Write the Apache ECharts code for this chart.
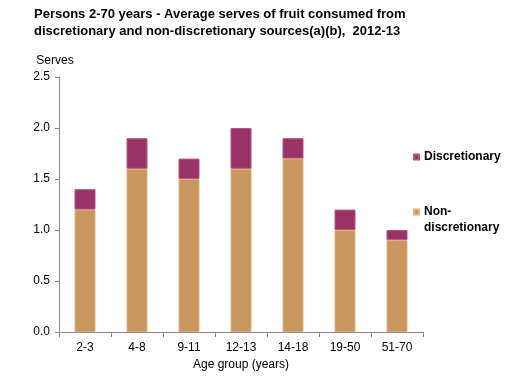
<!DOCTYPE html>
<html>
<head>
<meta charset="utf-8">
<script src="https://cdn.jsdelivr.net/npm/echarts@6/dist/echarts.min.js"></script>
<style>
  html, body { margin: 0; padding: 0; background: #fff; }
  #main { width: 508px; height: 377px; }
</style>
</head>
<body>
<div id="main"></div>
<script>
// age groups along the x axis
const ageGroups = ['2-3', '4-8', '9-11', '12-13', '14-18', '19-50', '51-70'];
// average serves
const nonDiscretionary = [1.2, 1.6, 1.5, 1.6, 1.7, 1.0, 0.9];
const discretionary = [0.2, 0.3, 0.2, 0.4, 0.2, 0.2, 0.1];

const font = 'Liberation Sans';

var myChart = echarts.init(document.getElementById('main'));

const option = {
    animation: false,
    title: {
        text: 'Persons 2-70 years - Average serves of fruit consumed from\ndiscretionary and non-discretionary sources(a)(b),  2012-13',
        left: 29,
        top: 1,
        textStyle: {
            fontFamily: font,
            fontSize: 13,
            fontWeight: 'bold',
            color: '#000',
            lineHeight: 17
        }
    },
    legend: {
        orient: 'vertical',
        left: 408,
        top: 144,
        icon: 'rect',
        itemWidth: 5,
        itemHeight: 5,
        itemGap: 23,
        data: ['Discretionary', 'Non-discretionary'],
        // empty first line so the marker lines up with "Non-"
        formatter: function (name) {
            return name === 'Non-discretionary' ? '\nNon-\ndiscretionary' : name;
        },
        textStyle: {
            fontFamily: font,
            fontSize: 12,
            fontWeight: 'bold',
            color: '#000',
            lineHeight: 16
        }
    },
    grid: {
        left: 59,
        right: 85,
        top: 77,
        bottom: 45
    },
    xAxis: {
        type: 'category',
        data: ageGroups,
        name: 'Age group (years)',
        nameLocation: 'middle',
        nameGap: 25,
        nameTextStyle: { fontFamily: font, fontSize: 12, color: '#000' },
        axisLine: { lineStyle: { color: '#888' } },
        axisTick: { show: true, alignWithLabel: false, length: 5, lineStyle: { color: '#888' } },
        axisLabel: { fontFamily: font, fontSize: 12, color: '#000', margin: 10 }
    },
    yAxis: {
        type: 'value',
        min: 0,
        max: 2.5,
        interval: 0.5,
        name: 'Serves',
        nameLocation: 'end',
        nameGap: 10,
        nameTextStyle: { fontFamily: font, fontSize: 12, color: '#000', align: 'center', padding: [0, 0, 0, -8] },
        splitLine: { show: false },
        axisLine: { show: true, lineStyle: { color: '#888' } },
        axisTick: { show: true, length: 4, lineStyle: { color: '#888' } },
        axisLabel: {
            fontFamily: font, fontSize: 12, color: '#000', margin: 9,
            formatter: function (v) { return v.toFixed(1); }
        }
    },
    series: [
        {
            name: 'Non-discretionary',
            type: 'bar',
            stack: 'total',
            barWidth: 21,
            data: nonDiscretionary,
            itemStyle: { color: '#C8965F', borderColor: '#DDB27F', borderWidth: 1 }
        },
        {
            name: 'Discretionary',
            type: 'bar',
            stack: 'total',
            barWidth: 21,
            data: discretionary,
            itemStyle: { color: '#993366', borderColor: '#B5557F', borderWidth: 1 }
        }
    ]
};

myChart.setOption(option);
</script>
</body>
</html>
